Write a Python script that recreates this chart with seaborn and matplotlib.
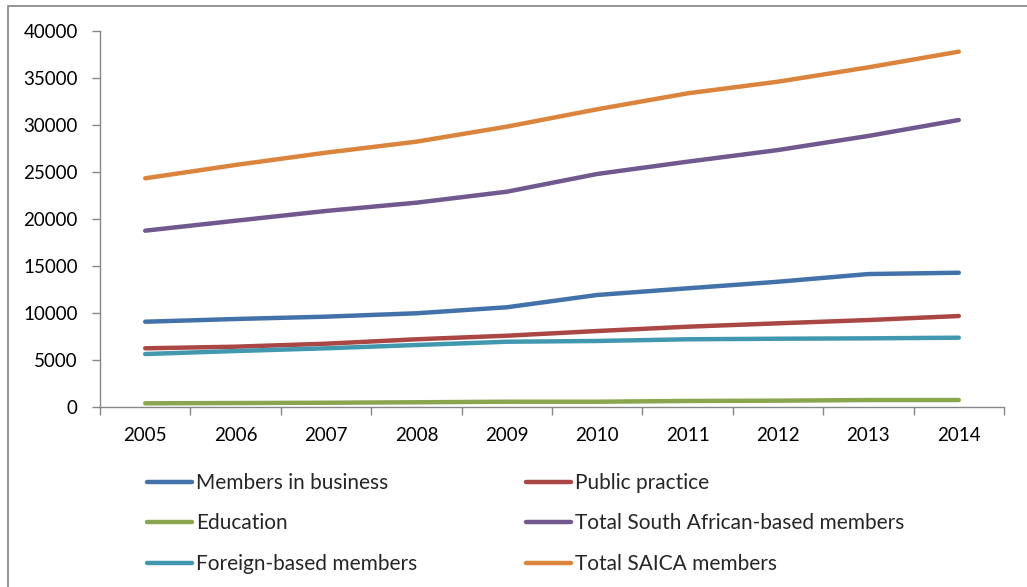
import matplotlib
matplotlib.use("Agg")
import matplotlib.pyplot as plt
from matplotlib.patches import Rectangle
from matplotlib.lines import Line2D
import seaborn as sns
import pandas as pd
import numpy as np

years = [2005, 2006, 2007, 2008, 2009, 2010, 2011, 2012, 2013, 2014]
members_in_business = [9030, 9320, 9570, 9930, 10570, 11880, 12590, 13290, 14110, 14250]
public_practice = [6200, 6370, 6690, 7160, 7540, 8040, 8500, 8860, 9210, 9640]
education = [340, 370, 400, 450, 510, 510, 590, 620, 690, 690]
total_sa_based = [18730, 19790, 20830, 21710, 22880, 24770, 26080, 27320, 28820, 30520]
foreign_based = [5590, 5910, 6200, 6550, 6900, 6980, 7160, 7220, 7260, 7330]
total_saica = [24310, 25730, 27040, 28210, 29810, 31660, 33360, 34600, 36130, 37800]

series_names = ["Members in business", "Public practice", "Education",
                "Total South African-based members", "Foreign-based members",
                "Total SAICA members"]
series_values = [members_in_business, public_practice, education,
                 total_sa_based, foreign_based, total_saica]
colors = ["#4372AA", "#AA4643", "#89A54E", "#71588F", "#4198AF", "#DB843D"]

rows = []
for name, vals in zip(series_names, series_values):
    for y, v in zip(years, vals):
        rows.append({"Year": y, "Value": v, "Series": name})
df = pd.DataFrame(rows)

sns.set_style("white")
plt.rcParams["font.family"] = ["Lato", "DejaVu Sans"]

W, H = 1027, 587
fig = plt.figure(figsize=(W / 100, H / 100), dpi=100)
ax = fig.add_axes([100 / W, 1 - 406.5 / H, (1004 - 100) / W, (406.5 - 31) / H])

sns.lineplot(data=df, x="Year", y="Value", hue="Series", hue_order=series_names,
             palette=dict(zip(series_names, colors)), linewidth=3.2, ax=ax,
             legend=False, solid_capstyle="round")

ax.set_xlim(2004.5, 2014.5)
ax.set_ylim(0, 40000)
ax.set_yticks(np.arange(0, 40001, 5000))
ax.set_yticklabels([str(v) for v in range(0, 40001, 5000)])
ax.set_xticks(years)
ax.set_xticklabels([str(y) for y in years])
ax.set_xticks(np.arange(2004.5, 2015, 1.0), minor=True)
ax.set_xlabel("")
ax.set_ylabel("")

axis_color = "#868686"
for s in ["top", "right"]:
    ax.spines[s].set_visible(False)
for s in ["left", "bottom"]:
    ax.spines[s].set_color(axis_color)
    ax.spines[s].set_linewidth(1.0)

ax.tick_params(axis="y", which="major", length=6, width=1.0, color=axis_color,
               direction="out", pad=10, labelsize=13.5, labelcolor="black", left=True)
ax.tick_params(axis="x", which="major", length=0, pad=15, labelsize=13.5, labelcolor="black")
ax.tick_params(axis="x", which="minor", length=6, width=1.0, color=axis_color,
               direction="out", bottom=True)

handles = [Line2D([0], [0], color=c, lw=3.2, solid_capstyle="round") for c in colors]
order = [0, 2, 4, 1, 3, 5]
leg = fig.legend([handles[i] for i in order], [series_names[i] for i in order],
                 ncol=2, loc="upper left", bbox_to_anchor=(147 / W, 1 - 473 / H),
                 frameon=False, fontsize=15, handlelength=2.16, handletextpad=0.2,
                 columnspacing=5.2, labelspacing=0.98, borderaxespad=0, borderpad=0)

frame = Rectangle((8 / W, -0.2), 1.5, 1 - 6 / H + 0.2, transform=fig.transFigure,
                  fill=False, edgecolor="#8C8C8C", linewidth=1.3, clip_on=False)
fig.patches.append(frame)

fig.savefig("out.png", dpi=100)
